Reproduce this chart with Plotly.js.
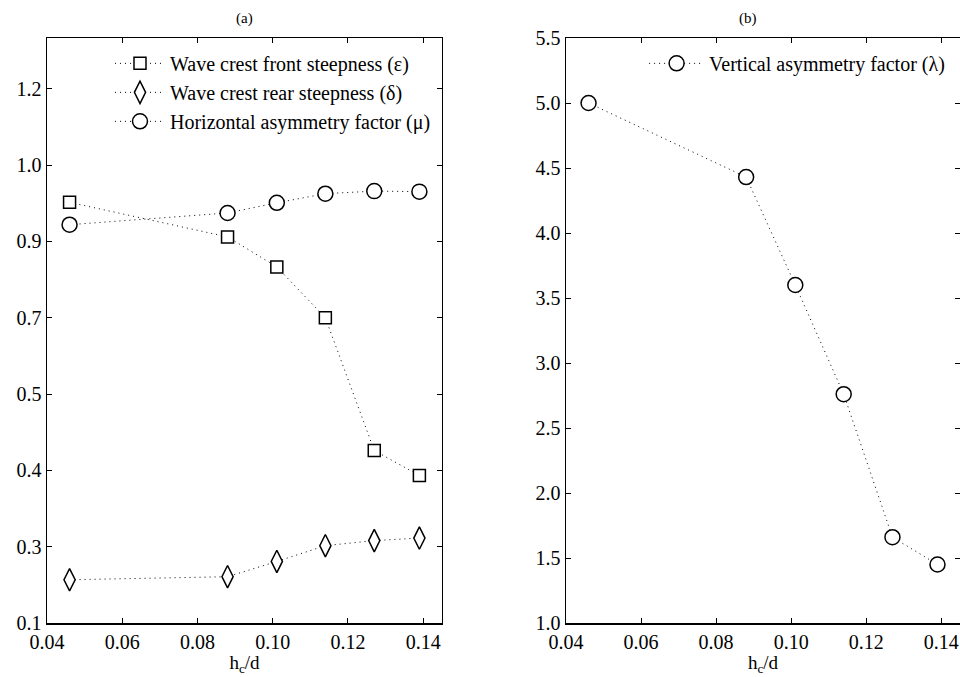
<!DOCTYPE html>
<html>
<head>
<meta charset="utf-8">
<script src="https://cdn.plot.ly/plotly-3.0.1.min.js"></script>
<style>html,body{margin:0;padding:0;background:#fff;}</style>
</head>
<body>
<div id="chart" style="width:960px;height:677px;"></div>
<script>
// Data
var hcd = [0.0460, 0.0880, 0.1011, 0.1140, 0.1270, 0.1390];
var frontSteepness = [0.927, 0.859, 0.800, 0.700, 0.439, 0.390];
var rearSteepness = [0.185, 0.191, 0.221, 0.252, 0.262, 0.267];
var horizAsym = [0.883, 0.906, 0.926, 0.944, 0.949, 0.948];
var vertAsym = [5.00, 4.43, 3.60, 2.76, 1.66, 1.45];

var xTicks = [0.04, 0.06, 0.08, 0.10, 0.12, 0.14];
var leftYTickVals = [0.1, 0.25, 0.4, 0.55, 0.7, 0.85, 1.0, 1.15];
var leftYTickText = ['0.1', '0.3', '0.4', '0.5', '0.7', '0.9', '1.0', '1.2'];

var seriesNames = ['Wave crest front steepness (\u03b5)', 'Wave crest rear steepness (\u03b4)',
                   'Horizontal asymmetry factor (\u03bc)', 'Vertical asymmetry factor (\u03bb)'];

var FONT = '"Liberation Serif", "Times New Roman", serif';
var lineStyle = {color: 'black', width: 1, dash: '1px,4px'};
function mk(sym, size) { return {symbol: sym, size: size, color: 'white', line: {color: 'black', width: 1.5}}; }

var traces = [
  {x: hcd, y: frontSteepness, name: seriesNames[0], mode: 'lines+markers', line: lineStyle,
   marker: mk('square', 12), xaxis: 'x', yaxis: 'y', legend: 'legend'},
  {x: hcd, y: rearSteepness, name: seriesNames[1], mode: 'lines+markers', line: lineStyle,
   marker: mk('diamond-tall', 16), xaxis: 'x', yaxis: 'y', legend: 'legend'},
  {x: hcd, y: horizAsym, name: seriesNames[2], mode: 'lines+markers', line: lineStyle,
   marker: mk('circle', 15), xaxis: 'x', yaxis: 'y', legend: 'legend'},
  {x: hcd, y: vertAsym, name: seriesNames[3], mode: 'lines+markers', line: lineStyle,
   marker: mk('circle', 15), xaxis: 'x2', yaxis: 'y2', legend: 'legend2'}
];

function axisBase() {
  return {
    showline: true, mirror: 'ticks', linecolor: 'black', linewidth: 1.5,
    ticks: 'inside', ticklen: 5, tickwidth: 1, tickcolor: 'black',
    showgrid: false, zeroline: false,
    tickfont: {family: FONT, size: 20, color: 'black'}
  };
}

var titleFont = {family: FONT, size: 19, color: 'black'};
var xa = Object.assign(axisBase(), {domain: [0, 0.4326], range: [0.04, 0.145], tickvals: xTicks, tickformat: '.2f',
  title: {text: 'h<sub>c</sub>/d', font: titleFont, standoff: 0}, anchor: 'y', automargin: false});
var xa2 = Object.assign(axisBase(), {domain: [0.5685, 1], range: [0.04, 0.145], tickvals: xTicks, tickformat: '.2f',
  title: {text: 'h<sub>c</sub>/d', font: titleFont, standoff: 0}, anchor: 'y2', automargin: false});
var ya = Object.assign(axisBase(), {range: [0.1, 1.25], tickvals: leftYTickVals, ticktext: leftYTickText, anchor: 'x', automargin: false});
var ya2 = Object.assign(axisBase(), {range: [1, 5.5], dtick: 0.5, tick0: 1, tickformat: '.1f', anchor: 'x2', automargin: false});

var legendFont = {family: FONT, size: 20, color: 'black'};
var layout = {
  width: 960, height: 677,
  margin: {l: 47, r: 0, t: 38, b: 54},
  paper_bgcolor: 'white', plot_bgcolor: 'white',
  font: {family: FONT, color: 'black'},
  xaxis: xa, yaxis: ya, xaxis2: xa2, yaxis2: ya2,
  legend: {x: 0.069, y: 0.99, xanchor: 'left', yanchor: 'top', bgcolor: 'rgba(0,0,0,0)',
           borderwidth: 0, font: legendFont, itemwidth: 50, tracegroupgap: 0},
  legend2: {x: 0.654, y: 0.99, xanchor: 'left', yanchor: 'top', bgcolor: 'rgba(0,0,0,0)',
            borderwidth: 0, font: legendFont, itemwidth: 55},
  showlegend: true,
  annotations: [
    {text: '(a)', xref: 'paper', yref: 'paper', x: 0.2158, y: 1.034, showarrow: false,
     xanchor: 'center', yanchor: 'middle', font: {family: FONT, size: 15, color: 'black'}},
    {text: '(b)', xref: 'paper', yref: 'paper', x: 0.7678, y: 1.034, showarrow: false,
     xanchor: 'center', yanchor: 'middle', font: {family: FONT, size: 15, color: 'black'}}
  ]
};

Plotly.newPlot('chart', traces, layout, {displayModeBar: false, staticPlot: true});
</script>
</body>
</html>
